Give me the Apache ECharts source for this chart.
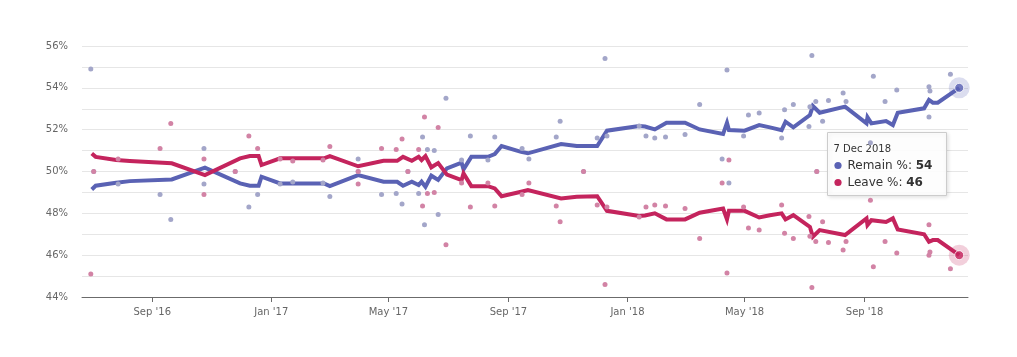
<!DOCTYPE html>
<html>
<head>
<meta charset="utf-8">
<script src="https://cdn.jsdelivr.net/npm/echarts@6/dist/echarts.min.js"></script>
<style>
html,body{margin:0;padding:0;background:#fff;}
#chart{width:1017px;height:357px;}
</style>
</head>
<body>
<div id="chart"></div>
<script>
// Individual polls
const pollDates = ['2016-06-30','2016-07-03','2016-07-28','2016-09-09','2016-09-20','2016-10-24','2016-10-24','2016-11-25','2016-12-09','2016-12-18',
  '2017-01-10','2017-01-23','2017-02-23','2017-03-02','2017-03-31','2017-03-31','2017-04-24','2017-05-09','2017-05-15','2017-05-21',
  '2017-06-01','2017-06-05','2017-06-07','2017-06-10','2017-06-17','2017-06-21','2017-06-29','2017-07-15','2017-07-24','2017-08-11',
  '2017-08-18','2017-09-15','2017-09-22','2017-10-20','2017-10-24','2017-11-17','2017-12-01','2017-12-09','2017-12-11','2018-01-13',
  '2018-01-20','2018-01-29','2018-02-09','2018-03-01','2018-03-16','2018-04-08','2018-04-13','2018-04-15','2018-04-30','2018-05-05',
  '2018-05-16','2018-06-08','2018-06-11','2018-06-20','2018-07-06','2018-07-07','2018-07-09','2018-07-13','2018-07-14','2018-07-20',
  '2018-07-26','2018-08-10','2018-08-13','2018-09-07','2018-09-10','2018-09-22','2018-10-04','2018-11-06','2018-11-07','2018-11-06',
  '2018-11-28'];
const pollRemain = [54.9,50,49.4,48.9,47.7,51.1,49.4,50,48.3,48.9,
  49.4,49.5,49.45,48.8,50.6,50,48.9,48.95,48.45,50,
  48.95,51.65,47.45,51.05,51.0,47.95,53.5,50.55,51.7,50.55,
  51.65,51.1,50.6,51.65,52.4,50,51.6,55.4,51.7,52.17,
  51.7,51.6,51.65,51.77,53.2,50.6,54.85,49.45,51.7,52.7,
  52.8,51.6,52.95,53.2,52.15,53.1,55.55,53.35,50,52.4,
  53.4,53.75,53.35,51.37,54.55,53.35,53.9,54.05,53.85,52.6,
  54.65];
const pollLeave = [45.1,50,50.6,51.1,52.3,48.9,50.6,50,51.7,51.1,
  50.6,50.5,50.55,51.2,49.4,50,51.1,51.05,51.55,50,
  51.05,48.35,52.6,48.95,49.0,52.1,46.5,49.45,48.3,49.45,
  48.35,48.9,49.45,48.35,47.6,50,48.4,44.6,48.3,47.83,
  48.3,48.4,48.35,48.23,46.8,49.45,45.15,50.55,48.3,47.3,
  47.2,48.4,47.05,46.8,47.85,46.9,44.45,46.65,50,47.6,
  46.6,46.25,46.65,48.63,45.45,46.65,46.1,46.0,46.15,47.45,
  45.35];

// Poll-of-polls trend
const trendDates = ['2016-07-01','2016-07-05','2016-07-26','2016-08-09','2016-09-21','2016-10-25','2016-11-30','2016-12-10','2016-12-19','2016-12-22',
  '2017-01-10','2017-02-24','2017-03-02','2017-03-31','2017-04-26','2017-05-10','2017-05-16','2017-05-25','2017-06-01','2017-06-04',
  '2017-06-08','2017-06-14','2017-06-21','2017-06-30','2017-07-15','2017-07-17','2017-07-25','2017-08-11','2017-08-18','2017-08-25',
  '2017-09-14','2017-09-21','2017-10-25','2017-11-10','2017-12-01','2017-12-11','2018-01-13','2018-01-19','2018-01-29','2018-02-10',
  '2018-03-01','2018-03-16','2018-04-09','2018-04-13','2018-04-15','2018-05-01','2018-05-16','2018-05-27','2018-06-08','2018-06-12',
  '2018-06-20','2018-07-07','2018-07-10','2018-07-17','2018-08-12','2018-08-13','2018-09-03','2018-09-04','2018-09-08','2018-09-23',
  '2018-09-30','2018-10-05','2018-11-01','2018-11-06','2018-11-10','2018-11-15','2018-12-07'];
const trendRemain = [49.14,49.32,49.46,49.54,49.62,50.18,49.43,49.32,49.32,49.75,
  49.43,49.43,49.30,49.83,49.51,49.51,49.32,49.51,49.35,49.51,
  49.27,49.80,49.60,50.15,50.42,50.10,50.70,50.70,50.83,51.22,
  50.94,50.87,51.31,51.22,51.22,51.95,52.17,52.15,52.01,52.33,
  52.33,52.01,51.79,52.33,51.98,51.95,52.22,52.11,51.98,52.38,
  52.11,52.70,53.13,52.81,53.10,53.18,52.30,52.59,52.30,52.41,
  52.22,52.81,53.02,53.42,53.29,53.29,54.0];
const trendLeave = [50.86,50.70,50.55,50.50,50.39,49.83,50.63,50.74,50.74,50.31,
  50.63,50.63,50.74,50.25,50.51,50.51,50.70,50.51,50.70,50.55,
  50.74,50.20,50.40,49.85,49.59,49.91,49.30,49.30,49.19,48.82,
  49.03,49.11,48.71,48.79,48.82,48.12,47.87,47.90,48.00,47.71,
  47.71,48.03,48.23,47.71,48.12,48.12,47.80,47.91,48.00,47.71,
  47.91,47.35,46.88,47.20,46.96,46.90,47.76,47.44,47.67,47.59,
  47.76,47.23,47.00,46.64,46.72,46.72,46.0];

// Axis ticks
const xTickDates = ['2016-09-01','2017-01-01','2017-05-01','2017-09-01','2018-01-01','2018-05-01','2018-09-01'];
const xMin = '2016-06-21', xMax = '2018-12-16';
const yMin = 44, yMax = 56, yStep = 1, yLabelStep = 2;
const tooltipTitle = '7 Dec 2018';
const seriesNames = ['Remain %', 'Leave %'];

const C_REMAIN = '#5a62b4', C_LEAVE = '#c4245d';
const C_REMAIN_DOT = '#a3a6c9', C_LEAVE_DOT = '#d283a5';
const FONT = 'DejaVu Sans';
const MONTHS = ['Jan','Feb','Mar','Apr','May','Jun','Jul','Aug','Sep','Oct','Nov','Dec'];

function parseD(s){ const p = s.split('-').map(Number); return Date.UTC(p[0], p[1]-1, p[2]); }
const zip = (d, v) => d.map((x, i) => [parseD(x), v[i]]);
const tickVals = xTickDates.map(parseD);
const lastIdx = trendDates.length - 1;

const chart = echarts.init(document.getElementById('chart'), null, {renderer: 'canvas'});
chart.setOption({
  animation: false,
  grid: {left: 82, right: 49, top: 46, bottom: 60, containLabel: false},
  xAxis: {
    type: 'value', min: parseD(xMin), max: parseD(xMax), scale: true,
    axisLine: {show: true, onZero: false, lineStyle: {color: '#6b6b6b', width: 1}},
    axisTick: {show: true, length: 5, customValues: tickVals, lineStyle: {color: '#6b6b6b'}},
    splitLine: {show: false},
    axisLabel: {
      customValues: tickVals, margin: 10, color: '#666', fontFamily: FONT, fontSize: 10,
      showMinLabel: true, showMaxLabel: true,
      formatter: v => { const d = new Date(v); return MONTHS[d.getUTCMonth()] + " '" + String(d.getUTCFullYear()).slice(2); }
    }
  },
  yAxis: {
    type: 'value', min: yMin, max: yMax, interval: yStep,
    axisLine: {show: false}, axisTick: {show: false},
    splitLine: {show: true, lineStyle: {color: '#e6e6e6', width: 1}},
    axisLabel: {
      margin: 14, color: '#666', fontFamily: FONT, fontSize: 10,
      formatter: v => (Math.round(v - yMin) % yLabelStep === 0 ? v + '%' : '')
    }
  },
  series: [
    {name: seriesNames[0], type: 'line', data: zip(trendDates, trendRemain), showSymbol: false, symbol: 'none',
     lineStyle: {color: C_REMAIN, width: 4, join: 'miter'}, itemStyle: {color: C_REMAIN}, z: 2},
    {name: seriesNames[1], type: 'line', data: zip(trendDates, trendLeave), showSymbol: false, symbol: 'none',
     lineStyle: {color: C_LEAVE, width: 4, join: 'miter'}, itemStyle: {color: C_LEAVE}, z: 2},
    {type: 'scatter', data: zip(pollDates, pollRemain), symbolSize: 5, itemStyle: {color: C_REMAIN_DOT, opacity: 1}, z: 3},
    {type: 'scatter', data: zip(pollDates, pollLeave), symbolSize: 5, itemStyle: {color: C_LEAVE_DOT, opacity: 1}, z: 3},
    {type: 'scatter', data: [[parseD(trendDates[lastIdx]), trendRemain[lastIdx]]], symbolSize: 21,
     itemStyle: {color: C_REMAIN, opacity: 0.22}, z: 4},
    {type: 'scatter', data: [[parseD(trendDates[lastIdx]), trendLeave[lastIdx]]], symbolSize: 21,
     itemStyle: {color: C_LEAVE, opacity: 0.22}, z: 4},
    {type: 'scatter', data: [[parseD(trendDates[lastIdx]), trendRemain[lastIdx]]], symbolSize: 9,
     itemStyle: {color: C_REMAIN, borderColor: '#fff', borderWidth: 1}, z: 5},
    {type: 'scatter', data: [[parseD(trendDates[lastIdx]), trendLeave[lastIdx]]], symbolSize: 9,
     itemStyle: {color: C_LEAVE, borderColor: '#fff', borderWidth: 1}, z: 5}
  ]
});

// Tooltip box anchored to the last points
const pR = chart.convertToPixel({xAxisIndex: 0, yAxisIndex: 0}, [parseD(trendDates[lastIdx]), trendRemain[lastIdx]]);
const pL = chart.convertToPixel({xAxisIndex: 0, yAxisIndex: 0}, [parseD(trendDates[lastIdx]), trendLeave[lastIdx]]);
const tw = 119, th = 63;
const gx = pR[0] - 132, gy = Math.round((pR[1] + pL[1]) / 2 - 40) + 0.5;
const rowText = (name, val) => '{n|' + name + ': }{b|' + Math.round(val) + '}';
chart.setOption({
  graphic: [{
    type: 'group', x: Math.round(gx) + 0.5, y: gy, z: 100,
    children: [
      {type: 'rect', shape: {x: 0, y: 0, width: tw, height: th},
       style: {fill: 'rgba(255,255,255,0.92)', stroke: '#cccccc', lineWidth: 1,
               shadowColor: 'rgba(0,0,0,0.12)', shadowBlur: 4, shadowOffsetX: 1, shadowOffsetY: 1}},
      {type: 'text', x: 6, y: 17, style: {text: tooltipTitle, font: '10px "DejaVu Sans"', fill: '#333', verticalAlign: 'middle'}},
      {type: 'circle', shape: {cx: 10.5, cy: 33, r: 3.6}, style: {fill: C_REMAIN}},
      {type: 'text', x: 20, y: 33, style: {text: rowText(seriesNames[0], trendRemain[lastIdx]), verticalAlign: 'middle',
        rich: {n: {fontFamily: FONT, fontSize: 12, fill: '#333'}, b: {fontFamily: FONT, fontSize: 12, fontWeight: 'bold', fill: '#333'}}}},
      {type: 'circle', shape: {cx: 10.5, cy: 50, r: 3.6}, style: {fill: C_LEAVE}},
      {type: 'text', x: 20, y: 50, style: {text: rowText(seriesNames[1], trendLeave[lastIdx]), verticalAlign: 'middle',
        rich: {n: {fontFamily: FONT, fontSize: 12, fill: '#333'}, b: {fontFamily: FONT, fontSize: 12, fontWeight: 'bold', fill: '#333'}}}}
    ]
  }]
});
</script>
</body>
</html>
